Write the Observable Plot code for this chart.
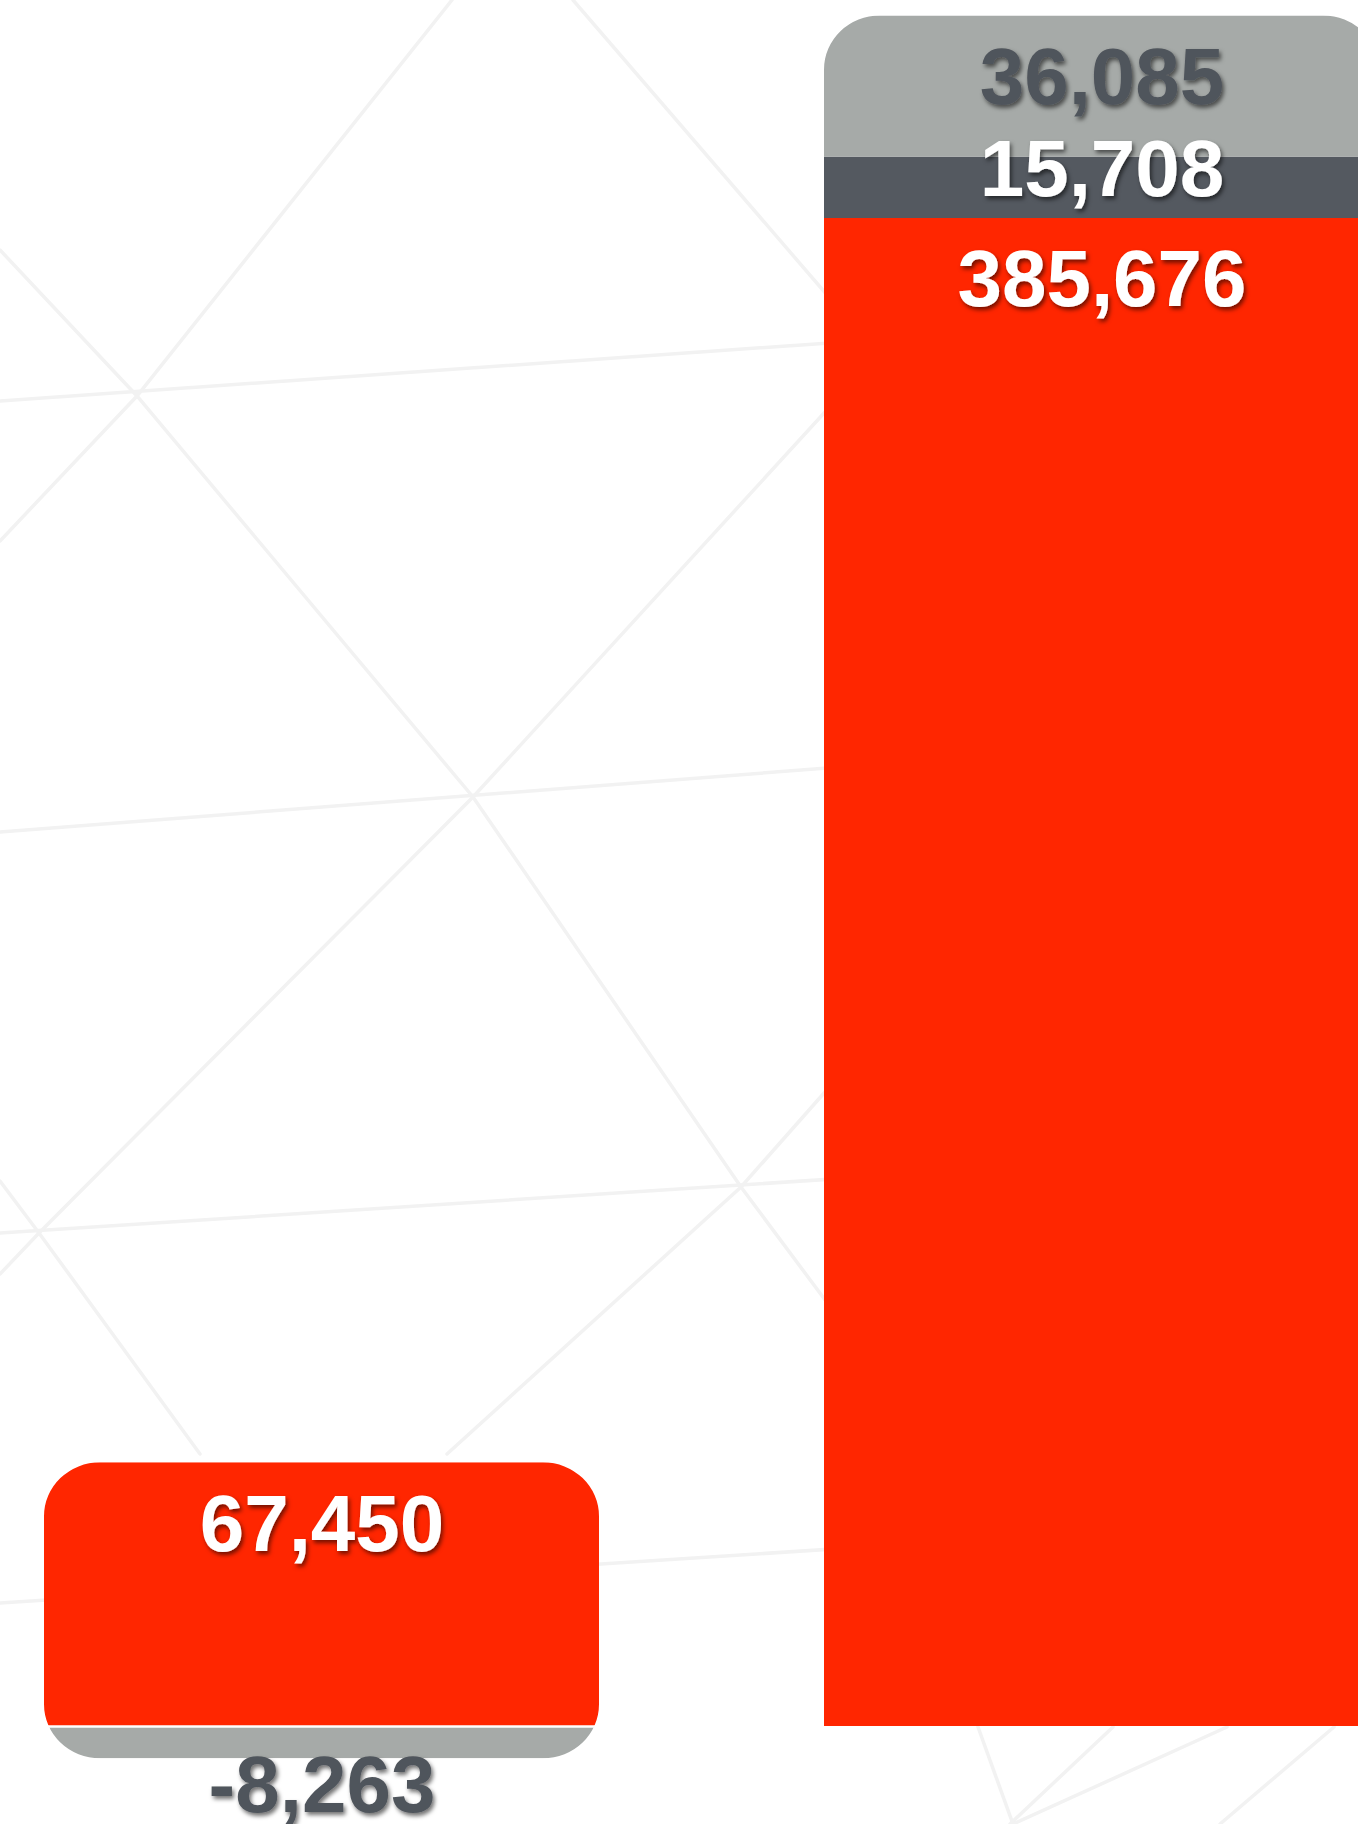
<!DOCTYPE html>
<html>
<head>
<meta charset="utf-8">
<script src="https://cdn.jsdelivr.net/npm/d3@7"></script>
<script src="https://cdn.jsdelivr.net/npm/@observablehq/plot@0.6"></script>
<style>
  html, body { margin: 0; padding: 0; background: #ffffff; overflow: hidden; }
  #wrap { position: relative; width: 1358px; height: 1824px; overflow: hidden; }
  #bg { position: absolute; left: 0; top: 0; }
  #chart { position: absolute; left: 0; top: 0; }
</style>
</head>
<body>
<div id="wrap">
  <svg id="bg" width="1358" height="1824" xmlns="http://www.w3.org/2000/svg">
    <g fill="none" stroke="#f2f2f2" stroke-width="3.5" stroke-linecap="round">
      <path d="M0,401 L1358,306"/>
      <path d="M0,832 L1358,727"/>
      <path d="M0,1233 L1358,1145"/>
      <path d="M0,1603 L1358,1515"/>
      <path d="M0,250 L137,396 L473,797 L741,1187 L840,1320"/>
      <path d="M452,0 L137,396 L0,541"/>
      <path d="M900,330 L473,797 L39,1233 L0,1274"/>
      <path d="M0,1181 L39,1233 L200,1454"/>
      <path d="M573,0 L840,310"/>
      <path d="M840,1075 L741,1187 L447,1454"/>
      <path d="M978,1727 L1013,1824"/>
      <path d="M1113,1727 L1010,1824"/>
      <path d="M1227,1727 L1013,1824"/>
      <path d="M1334,1727 L1220,1824"/>
    </g>
  </svg>
  <div id="chart"></div>
</div>
<script>
// ---- data ----
const categories = ["Category 1", "Category 2"];
const seriesNames = ["Series 1", "Series 2", "Series 3"];
const series1 = [67450, 385676];
const series2 = [0, 15708];
const series3 = [-8263, 36085];
const seriesColors = ["#ff2600", "#545960", "#a6aaa8"];

// ---- table built from the arrays ----
const seriesArrays = [series1, series2, series3];
const rows = [];
categories.forEach((c, i) => {
  seriesArrays.forEach((arr, j) => {
    if (arr[i] !== 0) rows.push({category: c, series: seriesNames[j], value: arr[i]});
  });
});

// segment extents for the labels
const labels = [];
const totals = {};
categories.forEach(c => {
  let pos = 0, neg = 0;
  rows.filter(d => d.category === c).forEach(d => {
    if (d.value >= 0) { labels.push({...d, y1: pos, y2: pos + d.value}); pos += d.value; }
    else { labels.push({...d, y1: neg, y2: neg + d.value}); neg += d.value; }
  });
  totals[c] = {pos, neg};
});

const yOpts = {domain: [-25000, 450000], range: [1823.75, -33.5]};
const ys = Plot.scale({y: yOpts});
const CAP = 58;
function labelY(d) {
  if (d.value < 0) return ys.invert(ys.apply(d.y2) - 4);
  const top = ys.apply(d.y2);
  const h = ys.apply(d.y1) - top;
  const off = Math.min(31, h - 21 - CAP);
  return ys.invert(top + off);
}
const fmt = v => v.toLocaleString("en-US");
const isLight = d => d.series === seriesNames[2];

const font = "'Liberation Sans', Arial, Helvetica, sans-serif";

const plot = Plot.plot({
  width: 1358,
  height: 1824,
  margin: 0,
  style: {background: "transparent", overflow: "hidden"},
  x: {domain: categories, range: [43, 1380], paddingInner: 0.288, paddingOuter: 0, axis: null},
  y: {...yOpts, axis: null},
  color: {domain: seriesNames, range: seriesColors},
  marks: [
    ...categories.map(c => Plot.barY(rows.filter(d => d.category === c), {
      x: "category", y: "value", fill: "series", order: seriesNames
    })),
    Plot.tickY(rows.filter(d => d.value < 0), {x: "category", y: () => 0, stroke: "white", strokeWidth: 2.5}),
    Plot.text(labels.filter(d => !isLight(d)), {
      x: "category", y: labelY, text: d => fmt(d.value),
      fill: "white", fontSize: 80, fontWeight: "bold", fontFamily: font,
      textAnchor: "middle", lineAnchor: "top"
    }),
    Plot.text(labels.filter(d => isLight(d)), {
      x: "category", y: labelY, text: d => fmt(d.value),
      fill: "#50555c", fontSize: 80, fontWeight: "bold", fontFamily: font,
      textAnchor: "middle", lineAnchor: "top"
    })
  ]
});

// rounded bar outlines (clip) and text shadows
const ns = "http://www.w3.org/2000/svg";
const defs = document.createElementNS(ns, "defs");
plot.insertBefore(defs, plot.firstChild);
const xs = plot.scale("x");
const ysc = plot.scale("y");
const barGroups = plot.querySelectorAll('g[aria-label="bar"]');
function roundedPath(x0, y0, x1, y1, rx, ry, roundBottom) {
  const top = `M${x0},${y0 + ry} A${rx},${ry} 0 0 1 ${x0 + rx},${y0} L${x1 - rx},${y0} A${rx},${ry} 0 0 1 ${x1},${y0 + ry}`;
  const bottom = roundBottom
    ? ` L${x1},${y1 - ry} A${rx},${ry} 0 0 1 ${x1 - rx},${y1} L${x0 + rx},${y1} A${rx},${ry} 0 0 1 ${x0},${y1 - ry} Z`
    : ` L${x1},${y1} L${x0},${y1} Z`;
  return top + bottom;
}
categories.forEach((c, i) => {
  const x0 = xs.apply(c), w = xs.bandwidth;
  const yTop = ysc.apply(totals[c].pos), yBot = ysc.apply(totals[c].neg);
  const cp = document.createElementNS(ns, "clipPath");
  cp.setAttribute("id", "barclip" + i);
  const p = document.createElementNS(ns, "path");
  p.setAttribute("d", roundedPath(x0, yTop, x0 + w, yBot, 56, 54, totals[c].neg < 0));
  cp.appendChild(p);
  defs.appendChild(cp);
  if (barGroups[i]) barGroups[i].setAttribute("clip-path", `url(#barclip${i})`);
});
const filt = document.createElementNS(ns, "filter");
filt.setAttribute("id", "txtshadow");
filt.setAttribute("x", "-20%"); filt.setAttribute("y", "-30%");
filt.setAttribute("width", "140%"); filt.setAttribute("height", "160%");
const ds = document.createElementNS(ns, "feDropShadow");
ds.setAttribute("dx", "2"); ds.setAttribute("dy", "3");
ds.setAttribute("stdDeviation", "2");
ds.setAttribute("flood-color", "#000"); ds.setAttribute("flood-opacity", "0.55");
filt.appendChild(ds);
defs.appendChild(filt);
plot.querySelectorAll('g[aria-label="text"]').forEach(g => g.setAttribute("filter", "url(#txtshadow)"));

document.getElementById("chart").appendChild(plot);
</script>
</body>
</html>
